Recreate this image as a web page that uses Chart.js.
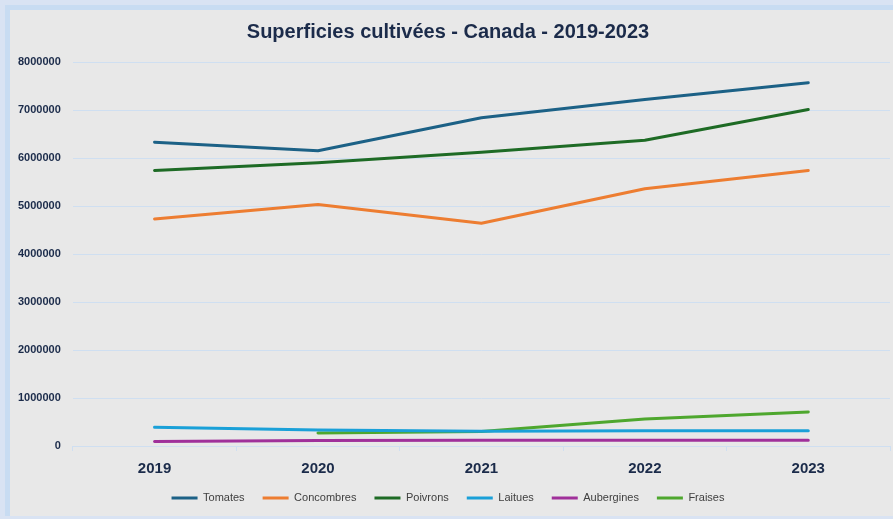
<!DOCTYPE html>
<html>
<head>
<meta charset="utf-8">
<script src="https://cdn.jsdelivr.net/npm/chart.js"></script>
<style>
  html, body { margin: 0; padding: 0; }
  body { width: 893px; height: 519px; background: #d9e3f3; position: relative; overflow: hidden; }
  #panel {
    position: absolute; left: 5px; top: 5px; width: 888px; height: 511px;
    background: #c8dcf2;
  }
  #inner {
    position: absolute; left: 5px; top: 5px; width: 883px; height: 506px;
    background: #e8e8e8;
  }
  #wrap { position: absolute; left: 0; top: 0; width: 893px; height: 519px; }
</style>
</head>
<body>
<div id="panel"><div id="inner"></div></div>
<div id="wrap"><canvas id="chart-superficies"></canvas></div>
<script>
var annees = ["2019", "2020", "2021", "2022", "2023"];
var tomates = [6330000, 6150000, 6840000, 7220000, 7570000];
var concombres = [4730000, 5030000, 4640000, 5360000, 5740000];
var poivrons = [5740000, 5900000, 6120000, 6370000, 7010000];
var laitues = [390000, 335000, 305000, 320000, 320000];
var aubergines = [95000, 115000, 118000, 120000, 122000];
var fraises = [null, 270000, 300000, 560000, 710000];

var couleurGrille = "#cfdff1";
var couleurTexte = "#1b2b4a";

function serie(label, data, color) {
  return {
    label: label,
    data: data,
    borderColor: color,
    backgroundColor: color,
    borderWidth: 3,
    tension: 0,
    pointRadius: 0,
    borderCapStyle: "round",
    borderJoinStyle: "round",
  };
}

var ctx = document.getElementById("chart-superficies").getContext("2d");

new Chart(ctx, {
  type: "line",
  data: {
    labels: annees,
    datasets: [
      serie("Tomates", tomates, "#1c6186"),
      serie("Concombres", concombres, "#ed7d31"),
      serie("Poivrons", poivrons, "#1e6b25"),
      serie("Laitues", laitues, "#1aa0d8"),
      serie("Aubergines", aubergines, "#a0309a"),
      serie("Fraises", fraises, "#4ea72e"),
    ],
  },
  options: {
    responsive: true,
    maintainAspectRatio: false,
    animation: false,
    layout: {
      padding: { left: 6, right: 3, top: 0, bottom: 5.5 },
    },
    plugins: {
      title: {
        display: true,
        text: "Superficies cultivées - Canada - 2019-2023",
        color: couleurTexte,
        font: { size: 20, weight: "bold", family: "'Liberation Sans', sans-serif" },
        padding: { top: 20, bottom: 18 },
      },
      legend: {
        position: "bottom",
        labels: {
          boxWidth: 26,
          boxHeight: 3,
          padding: 18,
          color: "#404040",
          font: { size: 11, family: "'Liberation Sans', sans-serif" },
          generateLabels: function (chart) {
            return Chart.defaults.plugins.legend.labels
              .generateLabels(chart)
              .map(function (l) {
                l.lineWidth = 0;
                l.fillStyle = l.strokeStyle;
                return l;
              });
          },
        },
      },
      tooltip: { enabled: false },
    },
    scales: {
      y: {
        min: 0,
        max: 8000000,
        border: { display: false },
        grid: {
          color: couleurGrille,
          lineWidth: 1,
          drawTicks: false,
        },
        ticks: {
          stepSize: 1000000,
          padding: 12,
          color: couleurTexte,
          font: { size: 11, weight: "bold", family: "'Liberation Sans', sans-serif" },
          callback: function (value) {
            return String(value);
          },
        },
      },
      x: {
        offset: true,
        border: { display: true, color: couleurGrille },
        grid: {
          offset: true,
          color: couleurGrille,
          drawOnChartArea: false,
          drawTicks: true,
          tickLength: 5,
        },
        ticks: {
          padding: 9,
          color: couleurTexte,
          font: { size: 15, weight: "bold", family: "'Liberation Sans', sans-serif", lineHeight: 1.2 },
        },
        afterFit: function (scale) {
          scale.height = 28.5;
        },
      },
    },
  },
});
</script>
</body>
</html>
